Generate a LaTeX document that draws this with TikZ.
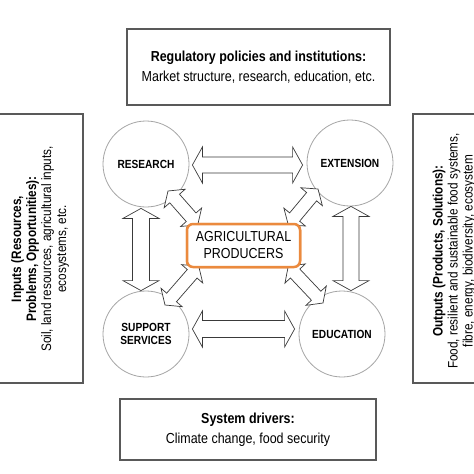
\documentclass[tikz,border=0pt]{standalone}
\usepackage{fontspec}
\setmainfont[FakeStretch=0.86]{Liberation Sans}
\usetikzlibrary{calc}
\definecolor{boxgray}{HTML}{595959}
\definecolor{circgray}{HTML}{A6A6A6}
\definecolor{arrgray}{HTML}{3A3A3A}
\definecolor{agriorange}{HTML}{EB8A3E}
% #1 half shaft, #2 half head, #3 and #4 the two tips
\newcommand\fatarrow[4]{
  \draw[fatarr] (#3)
    -- ($(#3)!10pt!(#4)!#2!90:(#4)$)
    -- ($(#3)!10pt!(#4)!#1!90:(#4)$)
    -- ($(#4)!10pt!(#3)!#1!-90:(#3)$)
    -- ($(#4)!10pt!(#3)!#2!-90:(#3)$)
    -- (#4)
    -- ($(#4)!10pt!(#3)!#2!90:(#3)$)
    -- ($(#4)!10pt!(#3)!#1!90:(#3)$)
    -- ($(#3)!10pt!(#4)!#1!-90:(#4)$)
    -- ($(#3)!10pt!(#4)!#2!-90:(#4)$)
    -- cycle;
}

\begin{document}
\begin{tikzpicture}[x=1pt, y=-1pt, inner sep=0,
  box/.style = {draw=boxgray, line width=1.2pt, fill=white},
  txt/.style = {align=center, font=\fontsize{14.5}{20}\selectfont},
  side/.style = {align=center, rotate=90, font=\fontsize{13.7}{15}\selectfont},
  hub/.style = {draw=circgray, line width=0.8pt, circle, fill=white, minimum size=86pt, align=center, font=\fontsize{11.8}{13.5}\selectfont\bfseries},
  producer/.style = {draw=agriorange, line width=2.5pt, rounded corners=6pt, fill=white, minimum width=113pt, minimum height=43pt, align=center, font=\fontsize{14.5}{17}\selectfont},
  fatarr/.style = {draw=arrgray, line width=0.7pt, fill=white, line join=miter}]
	\useasboundingbox (0,0) rectangle (474,474);
	\fill[white] (0,0) rectangle (474,474);
	% outer boxes
	\node[box, txt, minimum width=263pt, minimum height=76pt] (reg) at (258.5,67) {\textbf{Regulatory policies and institutions:}\\Market structure, research, education, etc.};
	\node[box, txt, minimum width=256pt, minimum height=61pt] (drv) at (248,429.5) {\textbf{System drivers:}\\Climate change, food security};
	\node[box, minimum width=93pt, minimum height=269pt] (inp) at (36.5,248.5) {};
	\node[side] (inptxt) at (40,249) {\textbf{Inputs (Resources,}\\\textbf{Problems, Opportunities):}\\Soil, land resources, agricultural inputs,\\ecosystems, etc.};
	\node[box, minimum width=97pt, minimum height=269pt] (out) at (461.5,248.5) {};
	\node[side] (outtxt) at (454,251) {\textbf{Outputs (Products, Solutions):}\\Food, resilient and sustainable food systems,\\fibre, energy, biodiversity, ecosystem};
	% circles
	\node[hub] (res) at (146,164) {RESEARCH};
	\node[hub] (ext) at (350,163) {EXTENSION};
	\node[hub] (sup) at (146,334) {SUPPORT\\SERVICES};
	\node[hub] (edu) at (342,334) {EDUCATION};
	% arrow tips
	\coordinate (rs-e) at ([shift={(3,1)}]res.east);
	\coordinate (ex-w) at ([shift={(-4,2)}]ext.west);
	\coordinate (su-e) at ([shift={(3,-5)}]sup.east);
	\coordinate (ed-w) at ([shift={(-4,-5)}]edu.west);
	\coordinate (rs-s) at ([shift={(-5,1)}]res.south);
	\coordinate (su-n) at ([shift={(-5,0)}]sup.north);
	\coordinate (ex-s) at ([shift={(1,0)}]ext.south);
	\coordinate (ed-n) at ([shift={(9,0)}]edu.north);
	\coordinate (rs-d) at (168,191);
	\coordinate (ex-d) at (318,189);
	\coordinate (su-d) at (165,305);
	\coordinate (ed-d) at (323,303);
	\node[producer] (agri) at (243.5,245.5) {};
	\coordinate (ag-nw) at ([shift={(12,2)}]agri.north west);
	\coordinate (ag-ne) at ([shift={(-13,2)}]agri.north east);
	\coordinate (ag-sw) at ([shift={(13,-2)}]agri.south west);
	\coordinate (ag-se) at ([shift={(-13,-2)}]agri.south east);
	% arrows
	\fatarrow{8pt}{18pt}{rs-e}{ex-w}
	\fatarrow{8.5pt}{18pt}{su-e}{ed-w}
	\fatarrow{8.5pt}{18pt}{rs-s}{su-n}
	\fatarrow{8pt}{18pt}{ex-s}{ed-n}
	\fatarrow{6.5pt}{14pt}{rs-d}{ag-nw}
	\fatarrow{6.5pt}{14pt}{ex-d}{ag-ne}
	\fatarrow{6.5pt}{14pt}{su-d}{ag-sw}
	\fatarrow{6.5pt}{14pt}{ed-d}{ag-se}
	\node[producer] (agritxt) at (agri) {AGRICULTURAL\\PRODUCERS};
\end{tikzpicture}
\end{document}
